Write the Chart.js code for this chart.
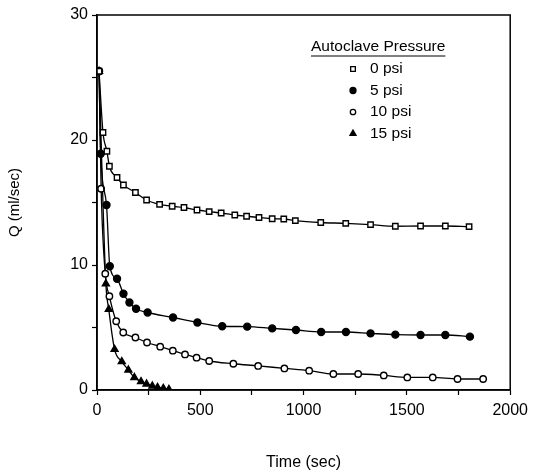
<!DOCTYPE html>
<html>
<head>
<meta charset="utf-8">
<script src="https://cdn.jsdelivr.net/npm/chart.js@4/dist/chart.umd.min.js"></script>
<style>
  html, body { margin: 0; padding: 0; background: #fff; }
  #wrap { width: 534px; height: 475px; }
</style>
</head>
<body>
<div id="wrap"><canvas id="chart"></canvas></div>
<script>
// values
var legendTitle = "Autoclave Pressure";
var seriesNames = ["0 psi", "5 psi", "10 psi", "15 psi"];

var t0 = [10, 29, 48, 60, 97, 128, 186, 240, 303, 364, 421, 484, 543, 601, 667, 724, 784, 848, 904, 960, 1083, 1204, 1324, 1444, 1566, 1686, 1801];
var q0 = [25.5, 20.6, 19.1, 17.9, 17.0, 16.4, 15.8, 15.2, 14.85, 14.7, 14.6, 14.4, 14.27, 14.16, 14.0, 13.9, 13.8, 13.7, 13.68, 13.55, 13.4, 13.33, 13.23, 13.1, 13.12, 13.12, 13.07];

var t5 = [10, 18, 46, 62, 97, 128, 157, 189, 245, 368, 486, 606, 727, 848, 963, 1085, 1205, 1324, 1444, 1566, 1686, 1805];
var q5 = [25.5, 18.9, 14.8, 9.9, 8.9, 7.7, 7.0, 6.5, 6.2, 5.8, 5.4, 5.1, 5.07, 4.93, 4.8, 4.64, 4.64, 4.53, 4.43, 4.4, 4.4, 4.27];

var t10 = [10, 20, 40, 60, 93, 127, 186, 242, 306, 367, 426, 482, 543, 660, 780, 907, 1027, 1144, 1264, 1388, 1502, 1625, 1745, 1869];
var q10 = [25.5, 16.1, 9.3, 7.5, 5.5, 4.6, 4.2, 3.8, 3.47, 3.15, 2.85, 2.59, 2.32, 2.1, 1.93, 1.73, 1.55, 1.28, 1.28, 1.17, 1.01, 1.01, 0.88, 0.88];

var t15 = [10, 43, 57, 85, 120, 152, 181, 213, 240, 268, 293, 321, 348];
var q15 = [25.5, 8.5, 6.45, 3.25, 2.27, 1.6, 1.0, 0.67, 0.48, 0.32, 0.21, 0.13, 0.05];

var xTicks = [0, 500, 1000, 1500, 2000];
var yTicks = [0, 10, 20, 30];

function pts(t, q) {
  return t.map(function (v, i) { return { x: v, y: q[i] }; });
}

var styles = [
  { pointStyle: 'rect', radius: 3.8, bg: '#fff' },
  { pointStyle: 'circle', radius: 3.5, bg: '#000' },
  { pointStyle: 'circle', radius: 3.2, bg: '#fff' },
  { pointStyle: 'triangle', radius: 4, bg: '#000' }
];
var allData = [pts(t0, q0), pts(t5, q5), pts(t10, q10), pts(t15, q15)];

var datasets = allData.map(function (d, i) {
  return {
    label: seriesNames[i],
    data: d,
    borderColor: '#000',
    borderWidth: 1.3,
    pointStyle: styles[i].pointStyle,
    pointRadius: styles[i].radius,
    pointBackgroundColor: styles[i].bg,
    pointBorderColor: '#000',
    pointBorderWidth: 1.4,
    cubicInterpolationMode: 'monotone',
    fill: false
  };
});

// box around plot + legend drawn inside the plot area
var boxAndLegend = {
  id: 'boxAndLegend',
  afterDraw: function (chart) {
    var ctx = chart.ctx, a = chart.chartArea;
    ctx.save();
    ctx.strokeStyle = '#000';
    ctx.lineWidth = 1.5;
    ctx.strokeRect(a.left, a.top, a.right - a.left, a.bottom - a.top);

    ctx.fillStyle = '#000';
    ctx.font = '15.5px "Liberation Sans", Arial, sans-serif';
    ctx.textBaseline = 'middle';
    ctx.textAlign = 'left';
    var tx = 311, ty = 47;
    ctx.fillText(legendTitle, tx, ty);
    var w = ctx.measureText(legendTitle).width;
    ctx.lineWidth = 1;
    ctx.beginPath();
    ctx.moveTo(tx, ty + 9);
    ctx.lineTo(tx + w, ty + 9);
    ctx.stroke();

    chart.data.datasets.forEach(function (ds, i) {
      var y = 69 + i * 21.5;
      ctx.lineWidth = 1.3;
      ctx.strokeStyle = '#000';
      ctx.fillStyle = ds.pointBackgroundColor;
      Chart.helpers.drawPoint(ctx, { pointStyle: ds.pointStyle, radius: ds.pointRadius - 0.5, rotation: 0, borderWidth: 1.3 }, 353, y);
      ctx.fillStyle = '#000';
      ctx.fillText(ds.label, 370, y);
    });
    ctx.restore();
  }
};

new Chart(document.getElementById('chart'), {
  type: 'line',
  data: { datasets: datasets },
  options: {
    responsive: true,
    maintainAspectRatio: false,
    animation: false,
    layout: { padding: { top: 15, right: 19, bottom: 0, left: 0 } },
    plugins: { legend: { display: false }, tooltip: { enabled: false } },
    scales: {
      x: {
        type: 'linear',
        min: 0, max: 2000,
        afterFit: function (s) { s.height = 85; },
        afterBuildTicks: function (s) {
          var out = [];
          for (var v = 0; v <= 2000; v += 250) out.push({ value: v });
          s.ticks = out;
        },
        ticks: {
          color: '#000',
          font: { family: '"Liberation Sans", Arial, sans-serif', size: 16 },
          padding: 6,
          maxRotation: 0,
          callback: function (v) { return xTicks.indexOf(v) >= 0 ? String(v) : ''; }
        },
        grid: { drawOnChartArea: false, color: '#000', tickLength: 5, tickWidth: 1.2 },
        border: { color: '#000', width: 1.5 },
        title: {
          display: true, text: 'Time (sec)', color: '#000',
          font: { family: '"Liberation Sans", Arial, sans-serif', size: 16 },
          padding: { top: 4, bottom: 3 }
        }
      },
      y: {
        type: 'linear',
        min: 0, max: 30,
        afterFit: function (s) { s.width = 97; },
        afterBuildTicks: function (s) {
          var out = [];
          for (var v = 0; v <= 30; v += 5) out.push({ value: v });
          s.ticks = out;
        },
        ticks: {
          color: '#000',
          font: { family: '"Liberation Sans", Arial, sans-serif', size: 16 },
          padding: 4,
          callback: function (v) { return yTicks.indexOf(v) >= 0 ? String(v) : ''; }
        },
        grid: { drawOnChartArea: false, color: '#000', tickLength: 5, tickWidth: 1.2 },
        border: { color: '#000', width: 1.5 },
        title: {
          display: true, text: 'Q (ml/sec)', color: '#000',
          font: { family: '"Liberation Sans", Arial, sans-serif', size: 15 },
          padding: { top: 6, bottom: 0 }
        }
      }
    }
  },
  plugins: [boxAndLegend]
});
</script>
</body>
</html>
